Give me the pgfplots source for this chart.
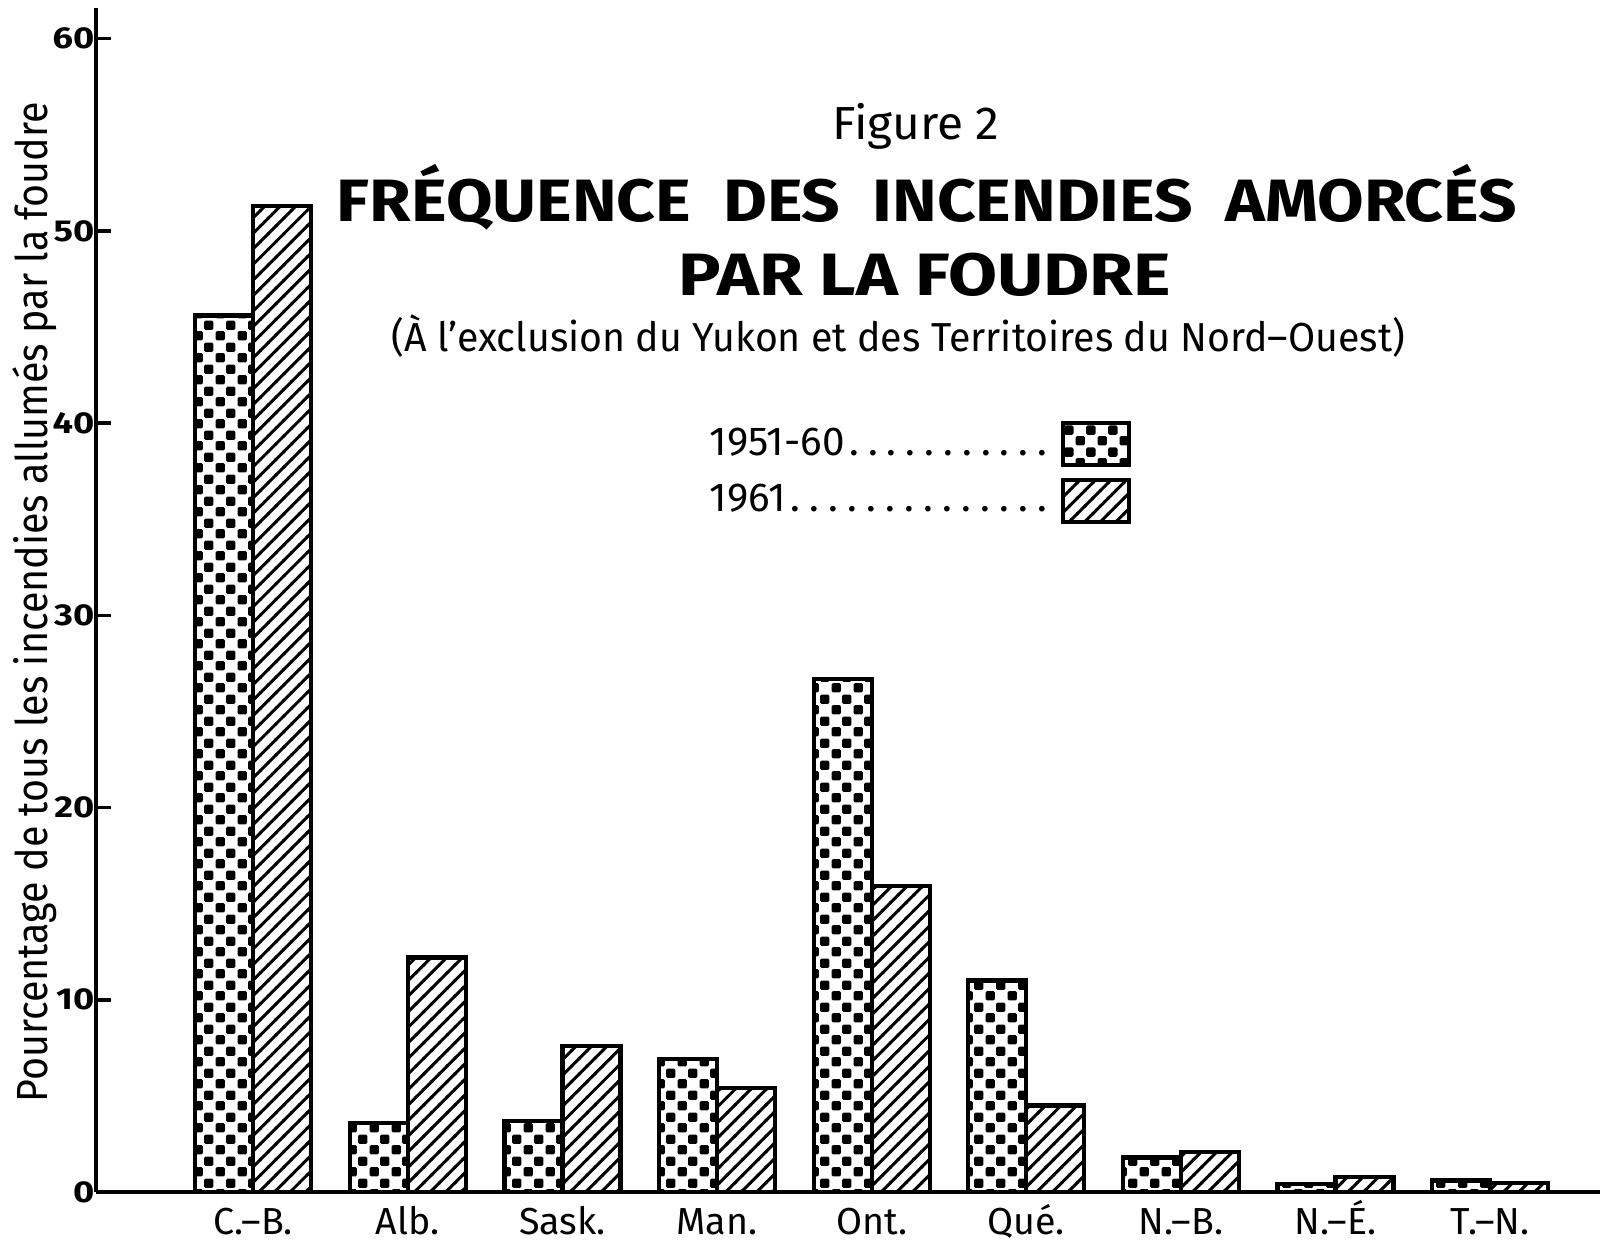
\documentclass[border=0pt]{standalone}
\usepackage{fontspec}
\setmainfont{Fira Sans}
\usepackage{pgfplots}
\usepackage{pgfplotstable}
\pgfplotsset{compat=1.18}
\usetikzlibrary{patterns.meta}

\tikzdeclarepattern{
  name=bigdots, type=uncolored,
  bounding box={(0cm,0cm) and (0.215cm,0.215cm)},
  tile size={(0.215cm,0.215cm)},
  code={
    \fill[rounded corners=0.015cm] (0.006cm,0.006cm) rectangle (0.101cm,0.101cm);
    \fill[rounded corners=0.015cm] (0.1135cm,0.1135cm) rectangle (0.2085cm,0.2085cm);
  }
}
\tikzdeclarepattern{
  name=hatchne, type=uncolored,
  bounding box={(-0.01cm,-0.01cm) and (0.12cm,0.12cm)},
  tile size={(0.11cm,0.11cm)},
  tile transformation={rotate=-45},
  code={\draw[line width=0.85pt] (0.055cm,-0.01cm) -- (0.055cm,0.12cm);}
}

\pgfplotstableread{
x a b
0 45.6 51.3
1 3.6 12.2
2 3.7 7.6
3 6.9 5.4
4 26.7 15.9
5 11.0 4.5
6 1.8 2.1
7 0.4 0.8
8 0.6 0.45
}\datatable

\newcommand\ytl[1]{\scalebox{1.2}[1]{#1}}
\newcommand\mydots{\xleaders\hbox to 0.46em{\hss.\hss}\hfill}

\begin{document}
\begin{tikzpicture}
\path[use as bounding box] (0,0) rectangle (16cm,12.41cm);
\begin{axis}[
  at={(0.96cm,0.49cm)}, anchor=south west,
  scale only axis, width=15.04cm, height=11.84cm,
  xmin=-1.016, xmax=8.71, ymin=0, ymax=61.6,
  axis lines=left,
  axis line style={-, line width=1.2pt, black},
  ybar=0pt, bar width=0.58cm,
  xtick={0,...,8},
  xticklabels={C.–B.,Alb.,Sask.,Man.,Ont.,Qué.,N.–B.,N.–É.,T.–N.},
  x tick style={draw=none},
  xticklabel style={font=\fontsize{10.7}{12}\selectfont, anchor=base, yshift=-0.42cm},
  ytick={0,10,...,60},
  yticklabels={\ytl{0},\ytl{10},\ytl{20},\ytl{30},\ytl{40},\ytl{50},\ytl{60}},
  yticklabel style={font=\bfseries\fontsize{8.6}{9}\selectfont, inner sep=0.3pt},
  y tick style={line width=1pt, black},
  major tick length=0.15cm, tick align=inside,
  ylabel={\resizebox{10cm}{\height}{\fontsize{12.4}{14}\selectfont Pourcentage de tous les incendies allumés par la foudre}},
  ylabel style={at={(axis description cs:-0.0325,0.498)}, anchor=base},
  legend style={at={(0.403,0.652)}, anchor=north west, draw=none, fill=none,
    font=\fontsize{11.5}{13}\selectfont, row sep=0.1cm, column sep=0.02cm, inner sep=0pt},
  legend cell align=left, legend plot pos=right,
  legend image code/.code={\draw[#1] (0cm,-0.21cm) rectangle (0.66cm,0.21cm);},
]
\addplot[draw=black, line width=1.2pt, pattern=bigdots] table[x=x,y=a]{\datatable};
\addplot[draw=black, line width=1.2pt, pattern=hatchne] table[x=x,y=b]{\datatable};
\legend{\makebox[3.42cm][l]{1951-60\mydots},\makebox[3.42cm][l]{1961\mydots}}
\end{axis}
\node[anchor=base, inner sep=0pt] at (9.16cm,11.01cm) {\resizebox{1.67cm}{\height}{\fontsize{13.2}{15}\selectfont Figure 2}};
\node[anchor=base, inner sep=0pt] at (9.27cm,10.19cm) {\resizebox{11.8cm}{\height}{\fontsize{17}{20}\selectfont\bfseries FRÉQUENCE\ \ DES\ \ INCENDIES\ \ AMORCÉS}};
\node[anchor=base, inner sep=0pt] at (9.25cm,9.45cm) {\resizebox{4.92cm}{\height}{\fontsize{17}{20}\selectfont\bfseries PAR LA FOUDRE}};
\node[anchor=base, inner sep=0pt] at (8.985cm,8.89cm) {\resizebox{10.13cm}{\height}{\fontsize{11.5}{14}\selectfont (À l'exclusion du Yukon et des Territoires du Nord–Ouest)}};
\end{tikzpicture}
\end{document}
